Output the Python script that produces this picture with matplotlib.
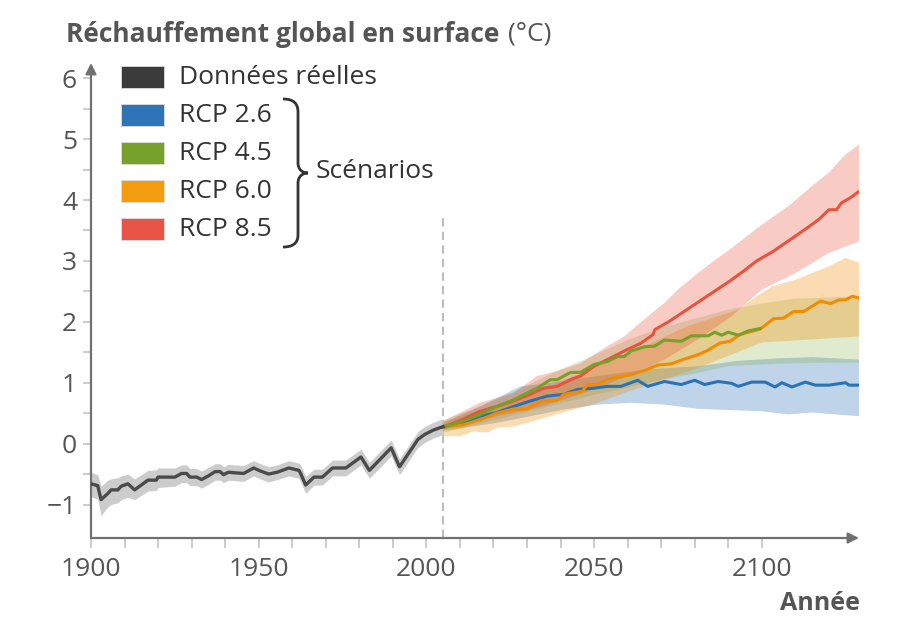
import numpy as np
import matplotlib.pyplot as plt
from matplotlib.path import Path
from matplotlib.patches import PathPatch, Rectangle
from matplotlib.transforms import Affine2D

plt.rcParams['font.family'] = ['Open Sans', 'DejaVu Sans']

# =========================================================
# DATA
# =========================================================

hist_year = [1900, 1902, 1903, 1905, 1906, 1908, 1909, 1911, 1913, 1917, 1919.5,
             1920, 1925, 1927, 1928.5, 1929.5, 1931.5, 1933, 1935, 1937, 1938.5,
             1939.5, 1941, 1943, 1945.5, 1948.5, 1950.5, 1953, 1955.5, 1959, 1962,
             1962.5, 1964, 1966.5, 1969, 1972, 1976, 1980.5, 1983, 1989.5, 1992,
             1997.5, 1999.5, 2002, 2005]
hist_val = [-0.66, -0.69, -0.92, -0.82, -0.76, -0.76, -0.70, -0.66, -0.76, -0.60, -0.60,
            -0.55, -0.55, -0.49, -0.49, -0.55, -0.55, -0.59, -0.53, -0.46, -0.46,
            -0.51, -0.47, -0.48, -0.49, -0.40, -0.45, -0.50, -0.47, -0.40, -0.44,
            -0.49, -0.68, -0.55, -0.55, -0.40, -0.40, -0.22, -0.44, -0.07, -0.38,
            0.07, 0.15, 0.22, 0.28]
hist_hi = [-0.47, -0.51, -0.70, -0.60, -0.58, -0.56, -0.53, -0.50, -0.58, -0.44, -0.43,
           -0.40, -0.40, -0.35, -0.35, -0.41, -0.41, -0.45, -0.39, -0.33, -0.33,
           -0.38, -0.34, -0.35, -0.36, -0.28, -0.33, -0.38, -0.35, -0.28, -0.32,
           -0.36, -0.54, -0.42, -0.42, -0.27, -0.27, -0.09, -0.31, 0.06, -0.25,
           0.20, 0.28, 0.35, 0.41]
hist_lo = [-0.87, -0.91, -1.18, -1.04, -1.00, -0.97, -0.92, -0.88, -0.92, -0.78, -0.77,
           -0.72, -0.70, -0.64, -0.64, -0.69, -0.69, -0.73, -0.67, -0.60, -0.60,
           -0.64, -0.60, -0.61, -0.62, -0.53, -0.58, -0.63, -0.59, -0.53, -0.57,
           -0.62, -0.82, -0.68, -0.68, -0.53, -0.53, -0.35, -0.57, -0.20, -0.51,
           -0.06, 0.02, 0.09, 0.15]

# RCP 2.6
rcp26_year = [2005, 2011, 2016, 2021, 2026, 2031, 2036, 2041, 2045, 2050, 2054, 2058,
              2063, 2066, 2071, 2076, 2080, 2083, 2087, 2091, 2093, 2097, 2101, 2104,
              2106, 2109, 2113, 2116, 2120, 2125, 2126, 2129]
rcp26_val = [0.27, 0.35, 0.45, 0.51, 0.61, 0.70, 0.78, 0.81, 0.89, 0.91, 0.94, 0.94,
             1.04, 0.94, 1.02, 0.97, 1.04, 0.97, 1.02, 0.99, 0.94, 1.01, 1.01, 0.93,
             1.00, 0.93, 1.01, 0.96, 0.96, 1.00, 0.96, 0.96]
rcp26_hi_year = [2005, 2016, 2028, 2036, 2051, 2066, 2081, 2093, 2105, 2115, 2129]
rcp26_hi = [0.34, 0.61, 0.94, 0.99, 1.11, 1.22, 1.27, 1.36, 1.40, 1.42, 1.38]
rcp26_lo_year = [2005, 2021, 2041, 2051, 2061, 2071, 2081, 2091, 2100, 2108, 2115, 2129]
rcp26_lo = [0.21, 0.34, 0.56, 0.64, 0.67, 0.64, 0.57, 0.55, 0.53, 0.48, 0.51, 0.45]

# RCP 4.5 (line stops at 2100)
rcp45_year = [2005, 2011, 2016, 2021, 2026, 2030, 2033, 2037, 2039, 2043, 2046, 2050,
              2054, 2057, 2059, 2061, 2065, 2068, 2071, 2076, 2079, 2084, 2086, 2088,
              2090, 2093, 2096, 2099.5]
rcp45_val = [0.27, 0.37, 0.48, 0.61, 0.72, 0.83, 0.91, 1.05, 1.05, 1.17, 1.17, 1.30,
             1.35, 1.43, 1.43, 1.52, 1.59, 1.60, 1.70, 1.68, 1.77, 1.77, 1.83, 1.78,
             1.83, 1.78, 1.85, 1.89]
rcp45_hi_year = [2005, 2020, 2030, 2040, 2050, 2060, 2070, 2080, 2090, 2100, 2110, 2129]
rcp45_hi = [0.38, 0.70, 0.95, 1.22, 1.45, 1.70, 1.90, 2.05, 2.20, 2.30, 2.38, 2.42]
rcp45_lo_year = [2005, 2020, 2030, 2040, 2050, 2060, 2070, 2080, 2090, 2100, 2110, 2129]
rcp45_lo = [0.18, 0.38, 0.52, 0.66, 0.80, 0.92, 1.05, 1.15, 1.27, 1.30, 1.32, 1.33]

# RCP 6.0
rcp60_year = [2005, 2011, 2016, 2021, 2026, 2030, 2034, 2039, 2041, 2046.5, 2048, 2051,
              2054, 2058, 2061, 2065, 2069, 2073, 2077, 2080.5, 2083.5, 2087.5, 2090.5,
              2093.5, 2099.5, 2103.5, 2106.5, 2109.5, 2112.5, 2117.5, 2120.5, 2123,
              2125, 2127, 2129]
rcp60_val = [0.27, 0.31, 0.39, 0.50, 0.57, 0.57, 0.70, 0.71, 0.81, 0.86, 0.97, 0.97,
             1.06, 1.10, 1.13, 1.20, 1.29, 1.31, 1.39, 1.45, 1.52, 1.65, 1.68,
             1.79, 1.88, 2.05, 2.06, 2.17, 2.17, 2.34, 2.30, 2.36,
             2.36, 2.42, 2.39]
rcp60_hi_year = [2005, 2016, 2031, 2046, 2061, 2078, 2093, 2098, 2103, 2110, 2120, 2125, 2129]
rcp60_hi = [0.35, 0.56, 0.81, 1.16, 1.50, 1.93, 2.20, 2.40, 2.58, 2.69, 2.91, 3.05, 2.97]
rcp60_lo_year = [2005, 2010, 2014, 2018, 2021, 2026, 2030, 2035, 2042, 2050, 2060, 2080,
                 2100, 2129]
rcp60_lo = [0.12, 0.12, 0.20, 0.18, 0.26, 0.28, 0.34, 0.42, 0.53, 0.65, 0.85, 1.22,
            1.66, 1.76]

# RCP 8.5
rcp85_year = [2005, 2011, 2016, 2021, 2026, 2031, 2035, 2039, 2043, 2046, 2050, 2054,
              2059, 2064, 2067.6, 2068.1, 2072.5, 2078.5, 2084.5, 2090.5, 2094.5,
              2098.5, 2103.5, 2108.5, 2113.5, 2117, 2120, 2122.3, 2123.7, 2126.2, 2129]
rcp85_val = [0.27, 0.40, 0.53, 0.61, 0.70, 0.81, 0.91, 0.94, 1.05, 1.11, 1.27, 1.38,
             1.52, 1.65, 1.79, 1.87, 2.01, 2.23, 2.45, 2.67, 2.83,
             3.00, 3.16, 3.35, 3.54, 3.68, 3.84, 3.84, 3.95, 4.03, 4.14]
rcp85_hi_year = [2005, 2016, 2026, 2033, 2039, 2046, 2054, 2059, 2065, 2071, 2075, 2081,
                 2085, 2091, 2098, 2103, 2108, 2115, 2120, 2125, 2129]
rcp85_hi = [0.37, 0.67, 0.83, 1.11, 1.19, 1.32, 1.60, 1.76, 2.04, 2.31, 2.53, 2.80,
            2.97, 3.21, 3.51, 3.71, 3.90, 4.23, 4.45, 4.75, 4.91]
rcp85_lo_year = [2005, 2021, 2031, 2041, 2051, 2061, 2071, 2081, 2091, 2100, 2110, 2120, 2129]
rcp85_lo = [0.23, 0.45, 0.56, 0.72, 0.91, 1.13, 1.38, 1.71, 2.09, 2.53, 2.80, 3.13, 3.32]

legend_labels = ['Données réelles', 'RCP 2.6', 'RCP 4.5', 'RCP 6.0', 'RCP 8.5']
x_ticks = list(range(1900, 2101, 50))
y_ticks = list(range(-1, 7))

# =========================================================
# STYLE
# =========================================================

C_HIST = '#4a4a4a'
C_BLUE = '#2b72b5'
C_GREEN = '#74a127'
C_ORANGE = '#f28b00'
C_RED = '#e8533f'
LEG_COLORS = ['#3b3b3b', '#2e74b8', '#76a22b', '#f39c0e', '#e85446']
AXIS_C = '#707070'
TICK_C = '#c4c4c4'
TEXT_C = '#555555'

fig = plt.figure(figsize=(9.12, 6.3), dpi=100)
ax = fig.add_axes([91 / 912, 1 - 538 / 630, (859 - 91) / 912, (538 - 63) / 630])
ax.set_xlim(1900, 2129)
ax.set_ylim(-1.55, 6.25)


def band(xh, yh, xl, yl, color, alpha):
    xs = np.concatenate([xh, xl[::-1]])
    ys = np.concatenate([yh, yl[::-1]])
    ax.fill(xs, ys, color=color, alpha=alpha, lw=0, zorder=1)


# historical data
ax.fill_between(hist_year, hist_lo, hist_hi, color='#cccccc', lw=0, zorder=1)
ax.plot(hist_year, hist_val, color=C_HIST, lw=2.4, zorder=4)

# scenario bands
band(rcp26_hi_year, rcp26_hi, rcp26_lo_year, rcp26_lo, C_BLUE, 0.3)
band(rcp45_hi_year, rcp45_hi, rcp45_lo_year, rcp45_lo, C_GREEN, 0.22)
band(rcp60_hi_year, rcp60_hi, rcp60_lo_year, rcp60_lo, C_ORANGE, 0.3)
band(rcp85_hi_year, rcp85_hi, rcp85_lo_year, rcp85_lo, C_RED, 0.3)

# scenario lines
ax.plot(rcp26_year, rcp26_val, color=C_BLUE, lw=2.2, zorder=3)
ax.plot(rcp60_year, rcp60_val, color=C_ORANGE, lw=2.2, zorder=3)
ax.plot(rcp85_year, rcp85_val, color=C_RED, lw=2.2, zorder=3)
ax.plot(rcp45_year, rcp45_val, color=C_GREEN, lw=2.2, zorder=3)

# dashed separator
ax.plot([2005, 2005], [-1.55, 3.72], color='#bdbdbd', lw=1.5,
        dashes=[4, 2.5], zorder=2)

# axes
for s in ['top', 'right', 'bottom', 'left']:
    ax.spines[s].set_visible(False)

ax.annotate('', xy=(1.0, 0), xytext=(0, 0), xycoords='axes fraction',
            arrowprops=dict(arrowstyle='-|>', color=AXIS_C, lw=1.6,
                            mutation_scale=16, shrinkA=0, shrinkB=0))
ax.annotate('', xy=(0, 1.0), xytext=(0, 0), xycoords='axes fraction',
            arrowprops=dict(arrowstyle='-|>', color=AXIS_C, lw=1.6,
                            mutation_scale=16, shrinkA=0, shrinkB=0))

ax.set_xticks(x_ticks)
ax.set_xticks(np.arange(1900, 2101, 10), minor=True)
ax.set_yticks(y_ticks)
ax.set_yticks(np.arange(-1, 6.01, 0.5), minor=True)
ax.set_xticklabels([str(v) for v in x_ticks])
ax.set_yticklabels([str(v).replace('-', '\u2212') for v in y_ticks])
ax.tick_params(which='both', color=TICK_C, width=1.2)
ax.tick_params(axis='x', which='both', length=7.5, pad=6, labelsize=19,
               labelcolor=TEXT_C)
ax.tick_params(axis='y', which='both', length=6, pad=4, labelsize=19,
               labelcolor=TEXT_C)

# =========================================================
# TEXTS, LEGEND AND BRACE (pixel positions, origin top-left)
# =========================================================

px = Affine2D().scale(1 / 912, -1 / 630).translate(0, 1) + fig.transFigure

title = fig.text(66 / 912, 1 - 34 / 630, 'Réchauffement global en surface',
                 fontsize=19, fontweight='bold', color=TEXT_C, va='center', ha='left')
renderer = fig.canvas.get_renderer()
title_end = title.get_window_extent(renderer).x1
fig.text((title_end + 9) / 912, 1 - 34 / 630, '(°C)', fontsize=19, color=TEXT_C,
         va='center', ha='left')
fig.text(860 / 912, 1 - 604 / 630, 'Année', fontsize=18, fontweight='bold',
         color=TEXT_C, va='center', ha='right')

row_y = [77, 115, 153, 191, 229]
for lab, col, yy in zip(legend_labels, LEG_COLORS, row_y):
    fig.patches.append(Rectangle((121, yy - 11), 43, 22, transform=px,
                                 facecolor=col, edgecolor='#dddddd', lw=0.6))
    fig.text(179 / 912, 1 - yy / 630, lab, fontsize=19, color='#333333',
             va='center', ha='left')

verts = [(283, 99), (293, 99), (298, 103), (298, 112),
         (298, 163),
         (298, 169), (302, 173), (308, 173),
         (302, 173), (298, 177), (298, 183),
         (298, 235),
         (298, 243), (293, 247), (283, 247)]
codes = [Path.MOVETO, Path.CURVE4, Path.CURVE4, Path.CURVE4,
         Path.LINETO,
         Path.CURVE4, Path.CURVE4, Path.CURVE4,
         Path.CURVE4, Path.CURVE4, Path.CURVE4,
         Path.LINETO,
         Path.CURVE4, Path.CURVE4, Path.CURVE4]
fig.patches.append(PathPatch(Path(verts, codes), transform=px, facecolor='none',
                             edgecolor='#333333', lw=2.0, capstyle='butt'))
fig.text(316 / 912, 1 - 172 / 630, 'Scénarios', fontsize=19, color='#333333',
         va='center', ha='left')

fig.savefig('out.png', dpi=100)
